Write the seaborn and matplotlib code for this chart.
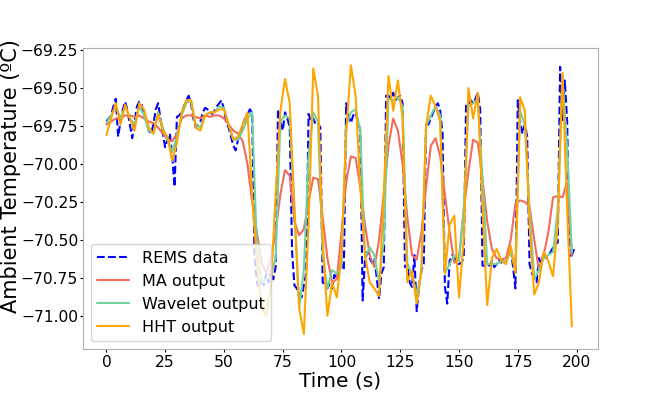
import numpy as np
import pandas as pd
import matplotlib
matplotlib.use("Agg")
import matplotlib.pyplot as plt
import seaborn as sns

# REMS raw data, one sample per second (0..199 s)
t_rems = np.arange(0, 200)
rems = [
    -69.72, -69.70, -69.68, -69.62, -69.57, -69.82, -69.72, -69.64, -69.59, -69.65,
    -69.74, -69.83, -69.72, -69.62, -69.59, -69.61, -69.68, -69.72, -69.78, -69.80,
    -69.74, -69.64, -69.60, -69.70, -69.80, -69.89, -69.84, -69.80, -69.95, -70.15,
    -69.69, -69.68, -69.66, -69.62, -69.58, -69.55, -69.60, -69.70, -69.76, -69.74,
    -69.72, -69.66, -69.63, -69.64, -69.66, -69.67, -69.65, -69.62, -69.60, -69.58,
    -69.64, -69.72, -69.76, -69.82, -69.88, -69.91, -69.84, -69.80, -69.74, -69.70,
    -69.68, -69.64, -69.66, -70.60, -70.78, -70.82, -70.75, -70.80, -70.72, -70.78,
    -70.70, -70.76, -70.68, -69.64, -69.72, -69.78, -69.66, -69.70, -69.76, -70.58,
    -70.80, -70.82, -70.85, -70.88, -70.80, -70.72, -69.67, -69.72, -69.70, -69.74,
    -69.73, -69.76, -70.78, -70.80, -70.82, -70.79, -70.82, -70.73, -70.76, -70.70,
    -70.66, -70.70, -69.60, -69.68, -69.73, -69.68, -69.66, -69.72, -69.78, -70.90,
    -70.64, -70.58, -70.62, -70.65, -70.62, -70.75, -70.89, -70.72, -70.68, -69.55,
    -69.55, -69.57, -69.53, -69.58, -69.56, -69.55, -69.60, -70.68, -70.66, -70.78,
    -70.81, -70.60, -70.97, -70.80, -70.70, -70.66, -69.72, -69.74, -69.70, -69.66,
    -69.62, -69.60, -69.65, -69.80, -70.81, -70.92, -70.64, -70.60, -70.61, -70.64,
    -70.66, -70.65, -70.62, -69.61, -69.61, -69.58, -69.60, -69.57, -69.53, -69.64,
    -70.67, -70.67, -70.66, -70.67, -70.64, -70.68, -70.66, -70.63, -70.65, -70.62,
    -70.62, -70.60, -70.56, -70.68, -70.82, -69.58, -69.72, -69.80, -69.74, -69.82,
    -70.66, -70.72, -70.75, -70.78, -70.62, -70.66, -70.58, -70.62, -70.60, -70.58,
    -70.55, -70.52, -70.52, -69.36, -69.71, -69.45, -69.72, -70.62, -70.60, -70.56,
]

# filtered outputs, every 2 s
t_filt = np.arange(0, 200, 2)
ma_out = [
    -69.74, -69.72, -69.70, -69.70, -69.68, -69.68, -69.69, -69.68, -69.70, -69.72,
    -69.73, -69.76, -69.80, -69.84, -69.85, -69.80, -69.70, -69.68, -69.68, -69.69,
    -69.70, -69.68, -69.69, -69.68, -69.68, -69.70, -69.74, -69.78, -69.80, -69.85,
    -70.00, -70.25, -70.45, -70.65, -70.72, -70.62, -70.45, -70.20, -70.04, -70.08,
    -70.38, -70.47, -70.43, -70.25, -70.09, -70.10, -70.35, -70.62, -70.78, -70.76,
    -70.45, -70.12, -69.95, -69.96, -70.15, -70.40, -70.60, -70.68, -70.50, -70.20,
    -69.88, -69.70, -69.78, -70.00, -70.35, -70.60, -70.63, -70.45, -70.15, -69.88,
    -69.83, -69.95, -70.20, -70.45, -70.65, -70.62, -70.30, -70.05, -69.84, -69.86,
    -70.10, -70.38, -70.56, -70.62, -70.63, -70.62, -70.50, -70.26, -70.24, -70.25,
    -70.28, -70.50, -70.70, -70.60, -70.45, -70.22, -70.21, -70.22, -70.12, -70.60,
]
wavelet_out = [
    -69.73, -69.68, -69.62, -69.70, -69.62, -69.70, -69.74, -69.62, -69.68, -69.78,
    -69.80, -69.66, -69.76, -69.84, -69.92, -69.82, -69.68, -69.60, -69.58, -69.74,
    -69.76, -69.68, -69.66, -69.66, -69.62, -69.63, -69.74, -69.84, -69.84, -69.78,
    -69.70, -69.66, -70.55, -70.78, -70.76, -70.74, -70.62, -69.72, -69.68, -69.70,
    -70.30, -70.95, -70.70, -69.95, -69.66, -69.72, -70.60, -70.82, -70.70, -70.72,
    -70.68, -69.75, -69.66, -69.64, -69.78, -70.62, -70.55, -70.60, -70.78, -70.50,
    -69.57, -69.58, -69.56, -69.62, -70.66, -70.72, -70.86, -70.72, -69.75, -69.68,
    -69.62, -69.68, -70.72, -70.66, -70.60, -70.64, -70.30, -69.62, -69.60, -69.58,
    -70.10, -70.66, -70.66, -70.66, -70.64, -70.64, -70.58, -70.70, -69.65, -69.74,
    -70.30, -70.76, -70.70, -70.62, -70.60, -70.58, -70.30, -69.42, -69.90, -70.58,
]
hht_out = [
    -69.81, -69.70, -69.60, -69.74, -69.61, -69.70, -69.78, -69.60, -69.64, -69.76,
    -69.80, -69.67, -69.78, -69.82, -69.98, -69.86, -69.66, -69.58, -69.58, -69.76,
    -69.78, -69.68, -69.66, -69.66, -69.64, -69.64, -69.74, -69.84, -69.82, -69.74,
    -69.66, -70.20, -70.65, -70.95, -71.00, -70.80, -70.20, -69.65, -69.44, -69.60,
    -70.30, -70.95, -71.12, -70.40, -69.37, -69.55, -70.50, -71.00, -70.78, -70.88,
    -70.60, -69.80, -69.35, -69.55, -70.15, -70.60, -70.78, -70.82, -70.87, -70.20,
    -69.42, -69.65, -69.45, -69.70, -70.78, -70.70, -70.92, -70.70, -69.75, -69.55,
    -69.62, -69.72, -70.72, -70.40, -70.34, -70.88, -70.50, -69.50, -69.70, -69.53,
    -70.30, -70.93, -70.62, -70.56, -70.64, -70.66, -70.54, -70.72, -69.56, -69.65,
    -70.40, -70.86, -70.78, -70.58, -70.64, -70.74, -70.40, -69.40, -70.30, -71.07,
]

sns.set_style("ticks", {"axes.edgecolor": "#b0b0b0", "text.color": "black",
                        "axes.labelcolor": "black", "xtick.color": "black",
                        "ytick.color": "black"})
plt.rcParams["font.family"] = ["DejaVu Sans"]

fig, ax = plt.subplots(figsize=(6.64, 3.99), dpi=100)
fig.subplots_adjust(left=0.125, right=0.9, top=0.88, bottom=0.125)

sns.lineplot(x=t_rems, y=rems, ax=ax, color="#0000ff", linestyle="--", lw=1.5, label="REMS data")
sns.lineplot(x=t_filt, y=ma_out, ax=ax, color="#f26b5b", lw=1.5, label="MA output")
sns.lineplot(x=t_filt, y=wavelet_out, ax=ax, color="#6fd3a0", lw=1.5, label="Wavelet output")
sns.lineplot(x=t_filt, y=hht_out, ax=ax, color="#ffa500", lw=1.5, label="HHT output")

ax.set_xlim(-9.95, 208.95)
ax.set_ylim(-71.22, -69.235)
ax.set_xlabel("Time (s)", fontsize=14.5, labelpad=1)
ax.set_ylabel("Ambient Temperature (ºC)", fontsize=15)
ax.yaxis.set_label_coords(-0.12, 0.575)
ax.tick_params(labelsize=11.2, length=2.5)
ax.tick_params(axis="x", pad=2)
ax.tick_params(axis="y", pad=1)
ax.legend(loc="lower left", fontsize=11.5)

fig.savefig("out.png", dpi=100)
